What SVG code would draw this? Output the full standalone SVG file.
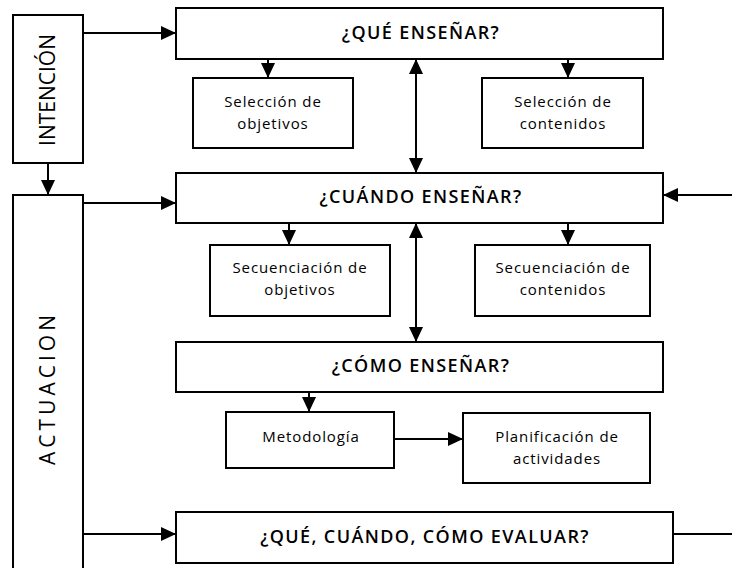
<svg xmlns="http://www.w3.org/2000/svg" width="732" height="568" viewBox="0 0 732 568">
<style>
.box{fill:#fff;stroke:#000;stroke-width:2}
.t{font-family:"Open Sans","Liberation Sans",sans-serif;fill:#000;text-anchor:middle;dominant-baseline:central}
.big{font-size:18px;font-weight:600;letter-spacing:1.4px}
.small{font-size:15px;letter-spacing:0.9px}
.side{font-size:21px}
.c{fill:none;stroke:#000;stroke-width:2}
</style>
<defs>
<marker id="ah" markerUnits="userSpaceOnUse" markerWidth="16" markerHeight="14" refX="15" refY="7" orient="auto-start-reverse">
<path d="M0,0 L15,7 L0,14 Z" fill="#000"/>
</marker>
</defs>
<g id="connectors">
<line class="c" x1="83" y1="33" x2="176" y2="33" marker-end="url(#ah)"/>
<line class="c" x1="48" y1="163" x2="48" y2="195" marker-end="url(#ah)"/>
<line class="c" x1="268" y1="59" x2="268" y2="78" marker-end="url(#ah)"/>
<line class="c" x1="568" y1="59" x2="568" y2="78" marker-end="url(#ah)"/>
<line class="c" x1="416" y1="59" x2="416" y2="173" marker-start="url(#ah)" marker-end="url(#ah)"/>
<line class="c" x1="83" y1="203" x2="176" y2="203" marker-end="url(#ah)"/>
<line class="c" x1="732" y1="195" x2="663" y2="195" marker-end="url(#ah)"/>
<line class="c" x1="289" y1="223" x2="289" y2="245" marker-end="url(#ah)"/>
<line class="c" x1="568" y1="223" x2="568" y2="245" marker-end="url(#ah)"/>
<line class="c" x1="416" y1="223" x2="416" y2="342" marker-start="url(#ah)" marker-end="url(#ah)"/>
<line class="c" x1="309" y1="392" x2="309" y2="412" marker-end="url(#ah)"/>
<line class="c" x1="394" y1="439" x2="463" y2="439" marker-end="url(#ah)"/>
<line class="c" x1="83" y1="534" x2="176" y2="534" marker-end="url(#ah)"/>
<line class="c" x1="673" y1="534" x2="732" y2="534"/>
</g>
<g id="intencion">
<rect class="box" x="13" y="15" width="70" height="148"/>
<text class="t side" transform="translate(47,90) rotate(-90)">INTENCIÓN</text>
</g>
<g id="actuacion">
<rect class="box" x="13" y="195" width="70" height="385"/>
<text class="t side" style="letter-spacing:4px" transform="translate(47,388) rotate(-90)">ACTUACION</text>
</g>
<g id="que">
<rect class="box" x="176" y="8" width="487" height="51"/>
<text class="t big" x="421" y="32">¿QUÉ ENSEÑAR?</text>
</g>
<g id="sel-obj">
<rect class="box" x="193" y="78" width="160" height="70"/>
<text class="t small" x="273" y="101">Selección de</text>
<text class="t small" x="273" y="123">objetivos</text>
</g>
<g id="sel-cont">
<rect class="box" x="482" y="78" width="161" height="70"/>
<text class="t small" x="563" y="101">Selección de</text>
<text class="t small" x="563" y="123">contenidos</text>
</g>
<g id="cuando">
<rect class="box" x="176" y="173" width="487" height="50"/>
<text class="t big" x="421" y="196">¿CUÁNDO ENSEÑAR?</text>
</g>
<g id="sec-obj">
<rect class="box" x="210" y="245" width="180" height="71"/>
<text class="t small" x="300" y="267">Secuenciación de</text>
<text class="t small" x="300" y="289">objetivos</text>
</g>
<g id="sec-cont">
<rect class="box" x="475" y="245" width="175" height="71"/>
<text class="t small" x="563" y="267">Secuenciación de</text>
<text class="t small" x="563" y="289">contenidos</text>
</g>
<g id="como">
<rect class="box" x="176" y="342" width="487" height="50"/>
<text class="t big" x="421" y="365">¿CÓMO ENSEÑAR?</text>
</g>
<g id="metodologia">
<rect class="box" x="226" y="412" width="168" height="56"/>
<text class="t small" x="311" y="436">Metodología</text>
</g>
<g id="planificacion">
<rect class="box" x="463" y="413" width="187" height="70"/>
<text class="t small" x="557" y="436">Planificación de</text>
<text class="t small" x="557" y="458">actividades</text>
</g>
<g id="evaluar">
<rect class="box" x="176" y="512" width="497" height="51"/>
<text class="t big" x="425" y="536">¿QUÉ, CUÁNDO, CÓMO EVALUAR?</text>
</g>
</svg>
